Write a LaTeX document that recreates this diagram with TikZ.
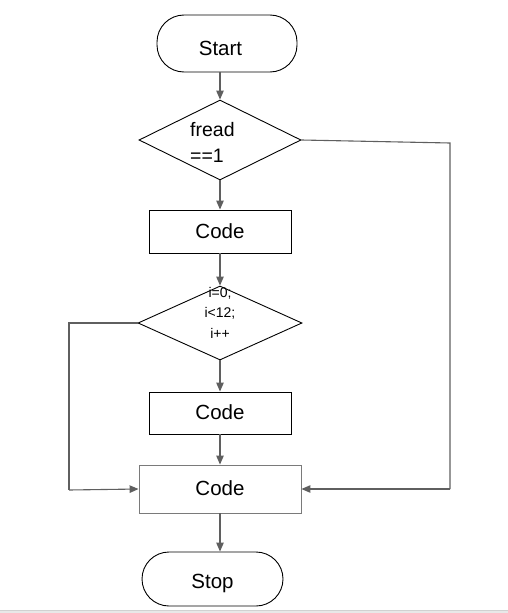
\documentclass[tikz,border=0pt]{standalone}
\usepackage{fontspec}
\setmainfont{Liberation Sans}
\usetikzlibrary{shapes.geometric,arrows.meta}
\definecolor{linegray}{HTML}{5F5F5F}
\definecolor{boxgray}{HTML}{7A7A7A}
\definecolor{stripgray}{HTML}{E8E8E8}
\begin{document}
\begin{tikzpicture}[x=1pt,y=-1pt,
  every node/.style={font=\fontsize{20.5}{24}\selectfont, text=black},
  terminal/.style={draw=black, line width=0.9pt, rectangle, rounded corners=27pt, inner sep=0pt},
  process/.style={draw=black, line width=0.9pt, rectangle, inner sep=0pt, text height=15pt, text depth=1.4pt},
  decision/.style={draw=black, line width=0.9pt, diamond, aspect=2, inner sep=0pt},
  flow/.style={draw=linegray, line width=1.1pt, -{Triangle[length=9pt,width=7.5pt]}},
  plain/.style={draw=linegray, line width=1.1pt}]
  \useasboundingbox (0,0) rectangle (508,613);
  % strip along the bottom edge
  \fill[stripgray] (0,610) rectangle (508,613);
  \draw[color=black!18, line width=0.6pt] (0,610) -- (508,610);

  % shapes
  \node[terminal, minimum width=140pt, minimum height=57pt, text height=23pt, text depth=0pt] (start) at (227,43.5) {\hspace*{-13pt}Start};
  \node[decision, minimum width=162pt, minimum height=80pt] (d1) at (220,140) {};
  \node[anchor=west, align=left, inner sep=0pt, font=\fontsize{19.5}{26}\selectfont] (d1t) at (190,142) {fread\\==1};
  \node[process, minimum width=142pt, minimum height=43pt] (c1) at (220,231.5) {Code};
  \node[decision, minimum width=164pt, minimum height=74pt] (d2) at (220,323) {};
  \node[align=center, inner sep=0pt, font=\fontsize{14}{20.5}\selectfont] (d2t) at (220,312.5) {i=0;\\i<12;\\i++};
  \node[process, minimum width=142pt, minimum height=42pt] (c2) at (220,413) {Code};
  \node[process, draw=boxgray, minimum width=162pt, minimum height=48pt] (c3) at (220,489) {Code};
  \node[terminal, minimum width=141pt, minimum height=54pt, text height=19pt, text depth=0.4pt] (stop) at (212.5,579) {Stop};

  % corners of the two bypass lines
  \coordinate (l1) at (69,323);
  \coordinate (l2) at (69,490);
  \coordinate (r1) at (450,143);
  \coordinate (r2) at (450,489);

  % connectors
  \draw[flow] (start.south -| d1.north) -- (d1.north);
  \draw[flow] (d1.south) -- (c1.north);
  \draw[flow] (c1.south) -- (d2.north);
  \draw[flow] (d2.south) -- (c2.north);
  \draw[flow] (c2.south) -- (c3.north);
  \draw[flow] (c3.south) -- (c3.south |- stop.north);
  \draw[plain] (d2.west) -- (l1) -- (l2);
  \draw[flow] (l2) -- (c3.west);
  \draw[plain] (d1.east) -- (r1) -- (r2);
  \draw[flow] (r2) -- (c3.east);
\end{tikzpicture}
\end{document}
